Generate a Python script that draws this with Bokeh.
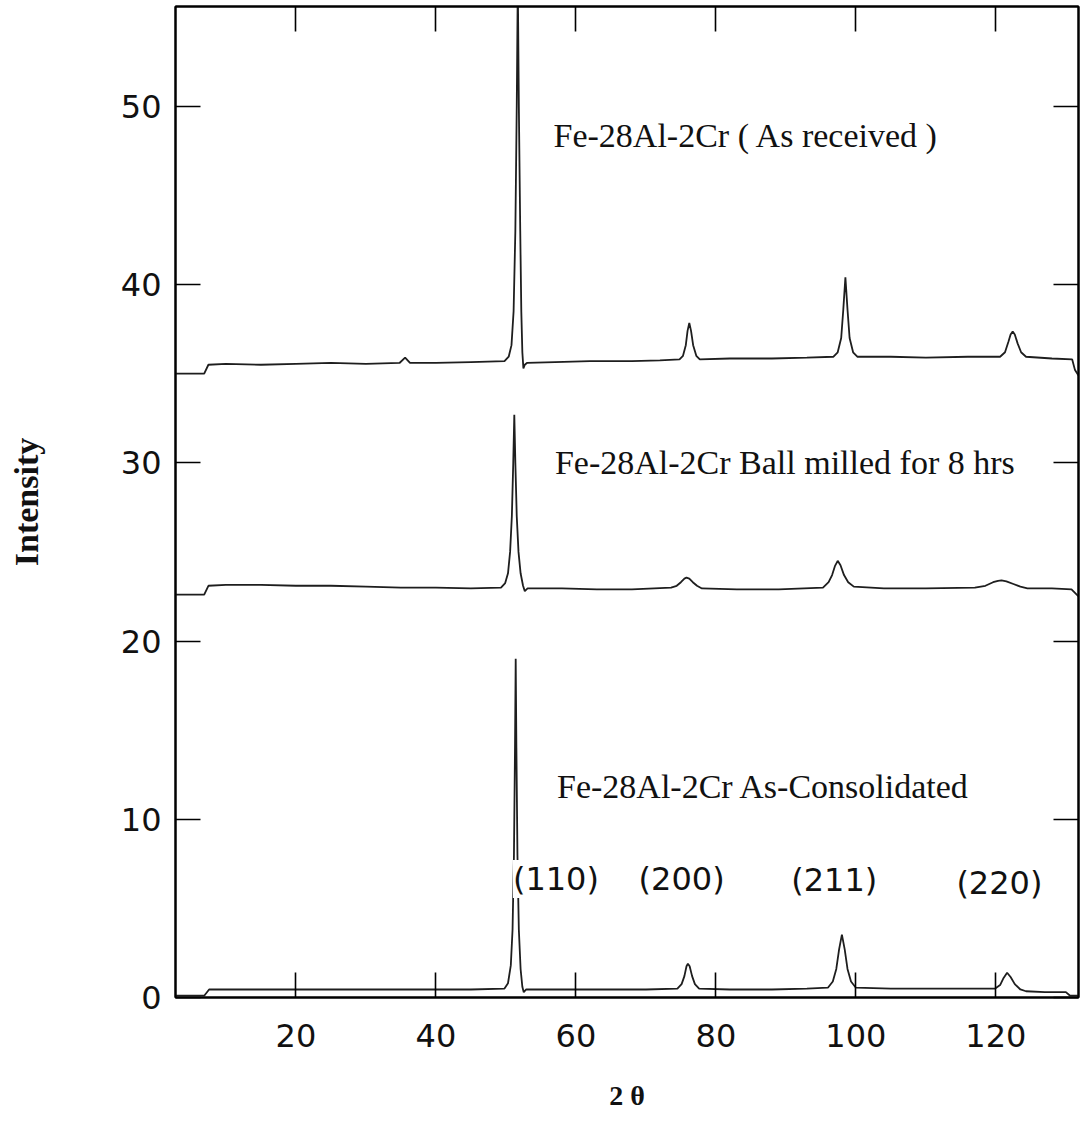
from bokeh.plotting import figure
from bokeh.models import Range1d, LinearAxis, Label, FixedTicker, CustomJSTickFormatter
from bokeh.embed import file_html
from bokeh.resources import INLINE

# ---------------- data ----------------
x_ticks = [20, 40, 60, 80, 100, 120]
y_ticks = [0, 10, 20, 30, 40, 50]

# Fe-28Al-2Cr (As received) - top trace, (2theta, intensity)
received = [
    (2.8, 35.0), (6.9, 35.0), (7.5, 35.5), (10, 35.55), (15, 35.5), (20, 35.55), (25, 35.6), (30, 35.55),
    (34.8, 35.6), (35.6, 35.9), (36.3, 35.6), (40, 35.6), (45, 35.65), (49.8, 35.7), (50.4, 35.95),
    (50.8, 36.6), (51.1, 38.5), (51.35, 43.0), (51.55, 50.0), (51.7, 57.0), (51.85, 50.0), (52.05, 43.0),
    (52.2, 38.5), (52.35, 36.2), (52.5, 35.3), (52.7, 35.5), (53.0, 35.6), (57, 35.65), (62, 35.7),
    (68, 35.7), (72, 35.75), (74.8, 35.8), (75.3, 36.0), (75.7, 36.6), (75.95, 37.4), (76.2, 37.85),
    (76.45, 37.4), (76.75, 36.6), (77.2, 36.0), (77.7, 35.8), (82, 35.85), (88, 35.85), (93, 35.9),
    (96.8, 35.95), (97.4, 36.2), (97.9, 37.0), (98.2, 38.6), (98.5, 40.4), (98.8, 38.6), (99.1, 37.0),
    (99.6, 36.2), (100.2, 35.95), (105, 35.95), (110, 35.9), (116, 35.95), (120.6, 35.95), (121.3, 36.2),
    (121.8, 36.8), (122.1, 37.2), (122.4, 37.37), (122.7, 37.2), (123.1, 36.7), (123.6, 36.2),
    (124.3, 35.95), (128, 35.85), (130.9, 35.8), (131.3, 35.2), (131.8, 34.9),
]

# Fe-28Al-2Cr Ball milled for 8 hrs - middle trace
milled = [
    (2.8, 22.6), (6.9, 22.6), (7.5, 23.1), (10, 23.15), (15, 23.15), (20, 23.1), (25, 23.1), (30, 23.05),
    (35, 23.0), (40, 23.0), (45, 22.95), (49.3, 23.0), (49.9, 23.25), (50.3, 23.8), (50.6, 25.0),
    (50.85, 27.0), (51.05, 30.0), (51.2, 32.7), (51.35, 30.0), (51.55, 27.0), (51.8, 25.0), (52.1, 23.8),
    (52.45, 23.1), (52.7, 22.8), (53.1, 22.95), (58, 22.95), (63, 22.9), (68, 22.9), (73.6, 23.0),
    (74.4, 23.1), (75.0, 23.3), (75.5, 23.5), (75.8, 23.56), (76.2, 23.5), (76.7, 23.3), (77.3, 23.1),
    (78.0, 22.95), (83, 22.9), (89, 22.9), (95.3, 23.0), (96.1, 23.3), (96.6, 23.7), (97.0, 24.2),
    (97.4, 24.5), (97.8, 24.25), (98.3, 23.7), (98.9, 23.3), (99.7, 23.05), (104, 22.95), (110, 22.95),
    (117.0, 23.0), (118.5, 23.1), (119.6, 23.3), (120.3, 23.38), (120.8, 23.4), (121.5, 23.35),
    (122.5, 23.2), (123.5, 23.05), (124.5, 22.95), (128, 22.95), (130.8, 22.9), (131.3, 22.7),
    (131.8, 22.5),
]

# Fe-28Al-2Cr As-Consolidated - bottom trace
consolidated = [
    (2.8, 0.1), (6.9, 0.1), (7.6, 0.45), (10, 0.45), (15, 0.45), (20, 0.45), (25, 0.45), (30, 0.45),
    (35, 0.45), (40, 0.45), (45, 0.45), (49.8, 0.5), (50.3, 0.8), (50.7, 1.8), (50.95, 3.8), (51.15, 8.0),
    (51.3, 14.0), (51.4, 19.0), (51.5, 14.0), (51.65, 8.0), (51.85, 3.8), (52.1, 1.6), (52.35, 0.6),
    (52.55, 0.3), (52.9, 0.45), (58, 0.45), (64, 0.45), (70, 0.45), (74.5, 0.5), (75.1, 0.75),
    (75.5, 1.2), (75.8, 1.75), (76.0, 1.89), (76.25, 1.75), (76.6, 1.2), (77.0, 0.75), (77.6, 0.5),
    (82, 0.45), (88, 0.45), (93, 0.5), (96.0, 0.55), (96.7, 0.9), (97.2, 1.6), (97.6, 2.7), (98.0, 3.53),
    (98.4, 2.7), (98.8, 1.6), (99.3, 0.9), (100.0, 0.55), (105, 0.5), (110, 0.5), (115, 0.5),
    (119.9, 0.5), (120.6, 0.7), (121.1, 1.1), (121.6, 1.39), (122.1, 1.15), (122.7, 0.75),
    (123.5, 0.45), (124.3, 0.35), (127, 0.3), (130.0, 0.3), (130.6, 0.1), (131.8, 0.1),
]

series_names = ["Fe-28Al-2Cr ( As received )", "Fe-28Al-2Cr Ball milled for 8 hrs",
                "Fe-28Al-2Cr As-Consolidated"]
hkl_labels = ["(110)", "(200)", "(211)", "(220)"]
x_title = "2 θ"
y_title = "Intensity"

# ---------------- figure ----------------
p = figure(width=1082, height=1127, x_range=Range1d(2.8, 131.8), y_range=Range1d(0, 55.6),
           output_backend="svg", toolbar_location=None,
           min_border_left=175, min_border_right=4, min_border_top=6, min_border_bottom=130)
p.xgrid.visible = False
p.ygrid.visible = False
p.background_fill_color = "white"
p.border_fill_color = "white"
p.outline_line_color = "black"
p.outline_line_width = 2

line_color = "#1e1e1e"
for trace in [received, milled, consolidated]:
    xs = [pt[0] for pt in trace]
    ys = [pt[1] for pt in trace]
    p.line(xs, ys, line_color=line_color, line_width=1.8)

tick_font = "DejaVu Sans"


def style_axis(ax, ticks):
    ax.ticker = FixedTicker(ticks=ticks, minor_ticks=[])
    ax.major_tick_in = 25
    ax.major_tick_out = 0
    ax.minor_tick_in = 0
    ax.minor_tick_out = 0
    ax.axis_line_width = 2
    ax.axis_line_color = "black"
    ax.major_tick_line_width = 1.6
    ax.major_tick_line_color = "black"


xa = p.xaxis[0]
style_axis(xa, x_ticks)
xa.major_label_text_font = tick_font
xa.major_label_text_font_size = "32px"
xa.major_label_text_color = "#111111"
xa.major_label_standoff = 26
xa.axis_label = x_title
xa.axis_label_text_font = "Liberation Serif"
xa.axis_label_text_font_style = "bold"
xa.axis_label_text_font_size = "28px"
xa.axis_label_text_color = "#111111"
xa.axis_label_standoff = 30

ya = p.yaxis[0]
style_axis(ya, y_ticks)
ya.major_label_text_font = tick_font
ya.major_label_text_font_size = "32px"
ya.major_label_text_color = "#111111"
ya.major_label_standoff = 14
ya.axis_label = y_title
ya.axis_label_text_font = "Liberation Serif"
ya.axis_label_text_font_style = "bold"
ya.axis_label_text_font_size = "34px"
ya.axis_label_text_color = "#111111"
ya.axis_label_standoff = 73

blank = CustomJSTickFormatter(code="return ''")
top_axis = LinearAxis(formatter=blank, major_label_text_font_size="1px", major_label_standoff=0)
style_axis(top_axis, x_ticks)
p.add_layout(top_axis, "above")
right_axis = LinearAxis(formatter=blank, major_label_text_font_size="1px", major_label_standoff=0)
style_axis(right_axis, y_ticks)
p.add_layout(right_axis, "right")

# series captions
cap_pos = [(56.8, 48.35), (57.0, 30.0), (57.3, 11.85)]
for name, (cx, cy) in zip(series_names, cap_pos):
    p.add_layout(Label(x=cx, y=cy, text=name, text_font="Liberation Serif", text_font_size="34px",
                       text_color="#111111", text_align="left", text_baseline="alphabetic"))

# Miller index labels
hkl_pos = [(51.0, 6.65, "left"), (75.1, 6.65, "center"), (96.9, 6.6, "center"), (120.5, 6.4, "center")]
for t, (hx, hy, al) in zip(hkl_labels, hkl_pos):
    p.add_layout(Label(x=hx, y=hy, text=t, text_font=tick_font, text_font_size="32px",
                       text_color="#111111", text_align=al, text_baseline="middle",
                       background_fill_color="white"))

open("out.html", "w").write(file_html(p, INLINE))
